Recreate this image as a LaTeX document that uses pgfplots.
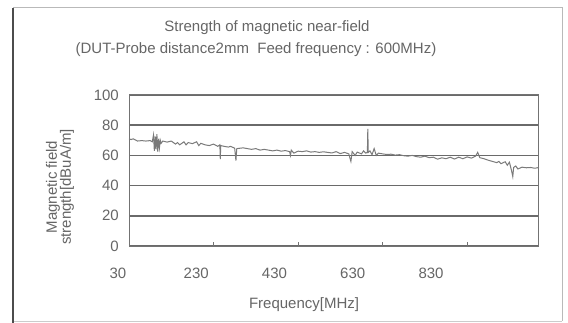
\documentclass[border=0pt]{standalone}
\usepackage{pgfplots}
\pgfplotsset{compat=1.18}
\usepackage{fontspec}
\setmainfont{Liberation Sans}
\definecolor{txt}{HTML}{666666}
\definecolor{grd}{HTML}{6A6A6A}
\definecolor{trc}{HTML}{7A7A7A}
\begin{document}
\fontsize{15}{15}\selectfont
\begin{tikzpicture}[x=1pt,y=1pt]
\path[use as bounding box] (0,0) rectangle (568,-323);
\fill[white] (0,0) rectangle (568,-323);
\draw[gray!55, line width=1pt] (562,-321) -- (562,-8) -- (13,-8);
\draw[gray!40, line width=0.8pt] (13,-321) -- (562,-321);
\draw[black!70, line width=1.2pt] (13,-8) -- (13,-323);
\node[txt, font=\fontsize{15}{15}\selectfont] at (267,-28) {Strength of magnetic near-field};
\node[txt, font=\fontsize{15}{15}\selectfont] at (256,-50) {(DUT-Probe distance2mm\ \ Feed frequency : 600MHz)};
\node[txt, rotate=90, align=center, font=\fontsize{15}{14}\selectfont] at (60,-187) {Magnetic field\\strength[dBuA/m]};
\begin{axis}[
  at={(129pt,-246pt)}, anchor=south west,
  scale only axis, width=410pt, height=151pt,
  xmin=30, xmax=1000, ymin=0, ymax=100,
  ytick={0,20,40,60,80,100},
  ymajorgrids, grid style={grd, line width=1.4pt},
  xtick={230,430,630,830}, xticklabels={},
  tick align=inside, xtick pos=bottom, major tick length=4pt,
  x tick style={black!55, line width=0.8pt},
  y tick style={draw=none},
  axis line style={black!55, line width=1pt},
  tick label style={txt, font=\fontsize{15}{15}\selectfont},
  yticklabel style={xshift=-5pt},
  /pgf/number format/assume math mode=true,
  xlabel={Frequency[MHz]},
  xlabel style={txt, font=\fontsize{15}{15}\selectfont, at={(axis description cs:0.427,0)}, anchor=center, yshift=-59pt},
  clip=false,
]
\addplot[trc, line width=1pt] coordinates {
(30,71) (35,70.5) (40,71) (50,69.5) (60,69.8) (70,69.5) (80,69.8) (85,69)
(88,73.5) (90,63) (92,72.5) (94,64) (96,74) (98,62.5) (100,71) (102,65) (104,70) (106,68)
(110,69.5) (120,68.8) (130,69.5) (140,67.5) (145,68.5) (150,67) (160,69) (165,67)
(170,68.5) (180,67.8) (190,69) (195,66.5) (200,68) (210,67) (220,66.5) (230,67.5)
(240,66) (245,67) (246,57.5) (247,66.5) (255,66) (265,65.5) (270,66) (280,64.8)
(283,56.5) (285,64.5) (300,65) (310,64.5) (320,64) (330,64.5) (340,63.5) (350,64)
(360,63.5) (370,63) (380,63.5) (390,62.8) (400,63.2) (410,62.5) (412,60) (414,63.5)
(420,61.5) (430,62.8) (440,62.5) (450,63) (460,62.2) (470,62.5) (480,62) (490,62.4)
(500,62) (510,61.6) (520,62.5) (530,61.2) (540,62) (550,61) (555,56) (558,62.5)
(565,60) (570,62.2) (580,61) (585,63) (590,61.5) (594,62) (595,77.5) (596,62)
(600,63) (605,60.5) (610,64.5) (615,60) (620,61.5) (630,61) (640,60.6) (650,60.8)
(660,60.2) (670,60.5) (680,59.8) (690,59.5) (700,60) (710,59.2) (720,58.8) (730,59.5)
(740,58.5) (750,58.8) (760,57.5) (770,58.4) (780,57.8) (790,58.8) (800,57.6) (810,58.8)
(820,57.8) (830,59) (840,58.2) (850,59.5) (855,62) (860,58.5) (870,57.8) (880,56.8)
(890,56) (900,55.2) (905,56) (910,54.5) (920,55.8) (925,53.5) (930,55.5) (935,50)
(938,46) (940,52) (945,53) (950,51) (960,52.2) (970,51.8) (980,52) (990,51.5) (1000,52)
};
\end{axis}
\begin{axis}[
  at={(100pt,-246pt)}, anchor=south west,
  scale only axis, width=439pt, height=151pt,
  xmin=-16, xmax=1106, ymin=0, ymax=100,
  xtick={30,230,430,630,830}, ytick=\empty,
  axis line style={draw=none}, tick style={draw=none},
  xtick pos=bottom,
  xticklabel style={txt, font=\fontsize{15}{15}\selectfont, anchor=center, yshift=-27pt},
  /pgf/number format/assume math mode=true,
]
\end{axis}
\end{tikzpicture}
\end{document}
